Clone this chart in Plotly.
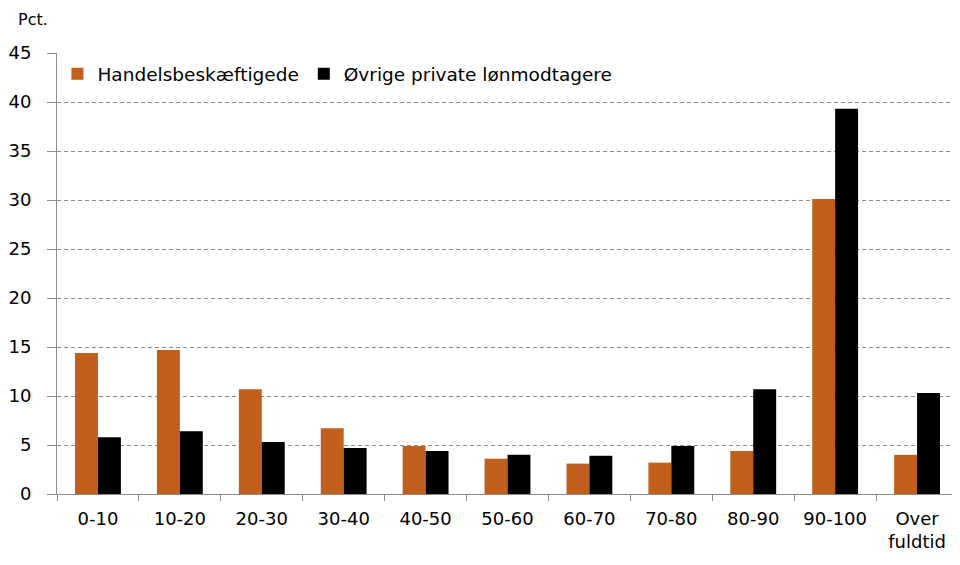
import plotly.graph_objects as go

categories = ["0-10", "10-20", "20-30", "30-40", "40-50", "50-60", "60-70", "70-80", "80-90", "90-100", "Over<br>fuldtid"]
handel = [14.4, 14.7, 10.7, 6.7, 4.9, 3.6, 3.1, 3.2, 4.4, 30.1, 4.0]
oevrige = [5.8, 6.4, 5.3, 4.7, 4.4, 4.0, 3.9, 4.9, 10.7, 39.3, 10.3]
yticks = [0, 5, 10, 15, 20, 25, 30, 35, 40, 45]

font = "'DejaVu Sans', sans-serif"

fig = go.Figure()
fig.add_trace(go.Bar(x=categories, y=handel, name="Handelsbeskæftigede",
                     marker=dict(color="#C0601C", line=dict(width=0))))
fig.add_trace(go.Bar(x=categories, y=oevrige, name="Øvrige private lønmodtagere",
                     marker=dict(color="#000000", line=dict(width=0))))

fig.update_layout(
    width=960, height=565,
    margin=dict(l=49, r=10, t=45, b=79, autoexpand=False),
    plot_bgcolor="white", paper_bgcolor="white",
    barmode="group", bargap=0.44, bargroupgap=0,
    font=dict(family=font, size=18, color="#000000"),
    showlegend=True,
    legend=dict(orientation="h", x=0.0005, y=0.995, xanchor="left", yanchor="top",
                font=dict(size=18.5), bgcolor="rgba(0,0,0,0)",
                itemwidth=30, tracegroupgap=0),
    annotations=[dict(text="Pct.", x=0, y=1, xref="paper", yref="paper",
                      xshift=-24, yshift=22, xanchor="center", yanchor="bottom",
                      showarrow=False, font=dict(size=16))],
)
fig.update_yaxes(range=[0, 45], tickvals=yticks, showgrid=True,
                 gridcolor="#8c8c8c", griddash="4px,3px", gridwidth=1,
                 showline=True, linecolor="#8c8c8c", linewidth=1,
                 ticks="outside", ticklen=9, tickcolor="#8c8c8c",
                 zeroline=False, tickfont=dict(size=18), automargin=False,
                 ticklabelstandoff=12)
fig.update_xaxes(showline=True, linecolor="#8c8c8c", linewidth=1,
                 ticks="outside", ticklen=6, tickcolor="#8c8c8c",
                 tickson="boundaries", tickfont=dict(size=18), automargin=False,
                 ticklabelstandoff=8)

fig.write_html("out.html")
